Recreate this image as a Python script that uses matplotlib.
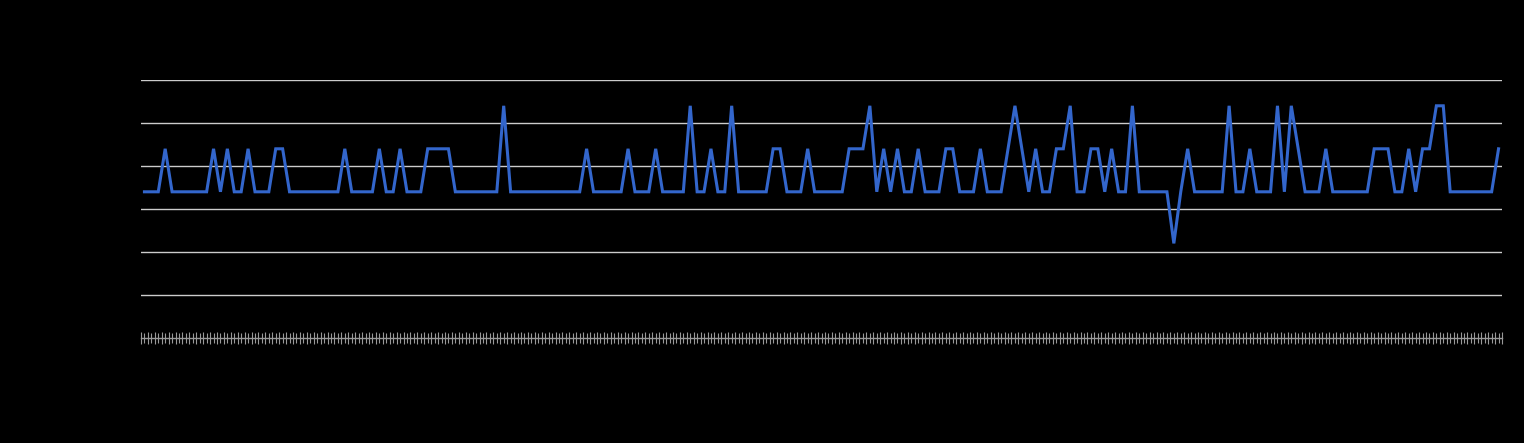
import matplotlib
matplotlib.use("Agg")
import matplotlib.pyplot as plt
import numpy as np

# values, one per category (197 points)
values = [
    3.4, 3.4, 3.4, 4.4, 3.4, 3.4, 3.4, 3.4, 3.4, 3.4,
    4.4, 3.4, 4.4, 3.4, 3.4, 4.4, 3.4, 3.4, 3.4, 4.4,
    4.4, 3.4, 3.4, 3.4, 3.4, 3.4, 3.4, 3.4, 3.4, 4.4,
    3.4, 3.4, 3.4, 3.4, 4.4, 3.4, 3.4, 4.4, 3.4, 3.4,
    3.4, 4.4, 4.4, 4.4, 4.4, 3.4, 3.4, 3.4, 3.4, 3.4,
    3.4, 3.4, 5.4, 3.4, 3.4, 3.4, 3.4, 3.4, 3.4, 3.4,
    3.4, 3.4, 3.4, 3.4, 4.4, 3.4, 3.4, 3.4, 3.4, 3.4,
    4.4, 3.4, 3.4, 3.4, 4.4, 3.4, 3.4, 3.4, 3.4, 5.4,
    3.4, 3.4, 4.4, 3.4, 3.4, 5.4, 3.4, 3.4, 3.4, 3.4,
    3.4, 4.4, 4.4, 3.4, 3.4, 3.4, 4.4, 3.4, 3.4, 3.4,
    3.4, 3.4, 4.4, 4.4, 4.4, 5.4, 3.4, 4.4, 3.4, 4.4,
    3.4, 3.4, 4.4, 3.4, 3.4, 3.4, 4.4, 4.4, 3.4, 3.4,
    3.4, 4.4, 3.4, 3.4, 3.4, 4.4, 5.4, 4.4, 3.4, 4.4,
    3.4, 3.4, 4.4, 4.4, 5.4, 3.4, 3.4, 4.4, 4.4, 3.4,
    4.4, 3.4, 3.4, 5.4, 3.4, 3.4, 3.4, 3.4, 3.4, 2.2,
    3.4, 4.4, 3.4, 3.4, 3.4, 3.4, 3.4, 5.4, 3.4, 3.4,
    4.4, 3.4, 3.4, 3.4, 5.4, 3.4, 5.4, 4.4, 3.4, 3.4,
    3.4, 4.4, 3.4, 3.4, 3.4, 3.4, 3.4, 3.4, 4.4, 4.4,
    4.4, 3.4, 3.4, 4.4, 3.4, 4.4, 4.4, 5.4, 5.4, 3.4,
    3.4, 3.4, 3.4, 3.4, 3.4, 3.4, 4.4,
]
y_ticks = [1, 2, 3, 4, 5, 6]

n = len(values)
x = np.arange(n)

fig = plt.figure(figsize=(15.24, 4.43), dpi=100, facecolor="black")
ax = fig.add_axes([141 / 1524, 1 - 338 / 443, 1361 / 1524, 258 / 443])
ax.set_facecolor("black")

ax.plot(x, values, color="#3366cc", linewidth=2.2, solid_joinstyle="miter")

ax.set_xlim(-0.5, n - 0.5)
ax.set_ylim(0, 6)

# horizontal gridlines
ax.set_yticks(y_ticks)
ax.yaxis.grid(True, color="#cccccc", linewidth=1.0)
ax.tick_params(axis="y", length=0, labelleft=False)
ax.set_axisbelow(True)

# category ticks: long ones at the boundaries, short ones at the centres
ax.set_xticks(np.arange(n + 1) - 0.5)
ax.set_xticks(x, minor=True)
ax.tick_params(axis="x", which="major", direction="inout", length=8.6,
               width=0.8, color="#999999", labelbottom=False)
ax.tick_params(axis="x", which="minor", direction="inout", length=6.8,
               width=0.8, color="#999999", labelbottom=False)

for side in ["top", "left", "right"]:
    ax.spines[side].set_visible(False)
ax.spines["bottom"].set_color("#999999")
ax.spines["bottom"].set_linewidth(1.0)

fig.savefig("out.png", dpi=100, facecolor="black")
